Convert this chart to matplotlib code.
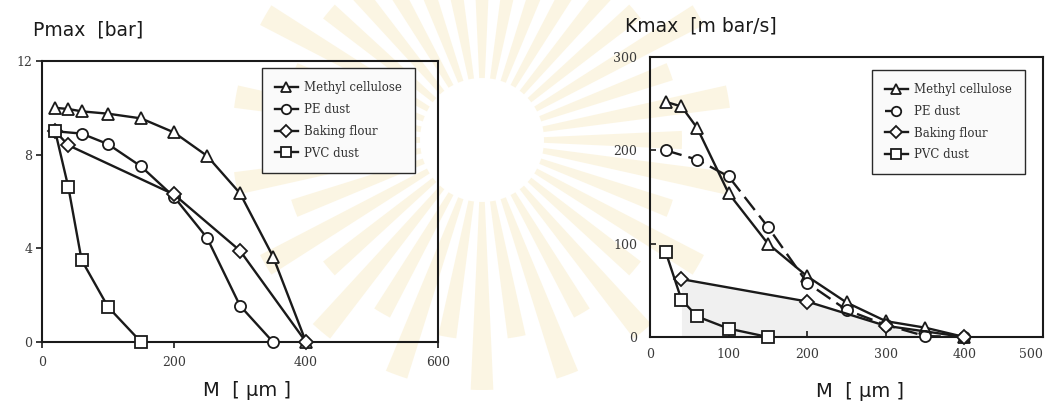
import numpy as np
import matplotlib
matplotlib.use("Agg")
import matplotlib.pyplot as plt
from matplotlib.patches import Wedge, Circle

# ---- data -------------------------------------------------------------
SERIES = ["Methyl cellulose", "PE dust", "Baking flour", "PVC dust"]

# Pmax [bar] vs mean particle size M [um]
mc_x_p = [20, 40, 60, 100, 150, 200, 250, 300, 350, 400]
mc_p = [10.0, 9.95, 9.85, 9.75, 9.55, 8.95, 7.95, 6.35, 3.65, 0.0]
pe_x_p = [20, 60, 100, 150, 200, 250, 300, 350]
pe_p = [9.0, 8.9, 8.45, 7.5, 6.2, 4.45, 1.55, 0.0]
bf_x_p = [20, 40, 200, 300, 400]
bf_p = [9.0, 8.4, 6.3, 3.9, 0.0]
pvc_x_p = [20, 40, 60, 100, 150]
pvc_p = [9.0, 6.6, 3.5, 1.5, 0.0]

# Kmax [m bar/s] vs M [um]
mc_x_k = [20, 40, 60, 100, 150, 200, 250, 300, 350, 400]
mc_k = [252, 247, 224, 154, 100, 65, 37, 17, 10, 0]
pe_x_k = [20, 60, 100, 150, 200, 250, 300, 350, 400]
pe_k = [200, 190, 172, 118, 58, 29, 13, 1, 0]
bf_x_k = [40, 200, 300, 400]
bf_k = [62, 38, 12, 0]
pvc_x_k = [20, 40, 60, 100, 150]
pvc_k = [91, 40, 22, 9, 0]

P_XTICKS = [0, 200, 400, 600]
P_YTICKS = [0, 4, 8, 12]
K_XTICKS = [0, 100, 200, 300, 400, 500]
K_YTICKS = [0, 100, 200, 300]

MARKERS = ["^", "o", "D", "s"]
INK = "#1a1a1a"
TICKC = "#3a3a3a"
W, H = 1046, 404

fig = plt.figure(figsize=(W / 100, H / 100), dpi=100)

# faint watermark emblem behind the figure (scan artefact)
bg = fig.add_axes([0, 0, 1, 1], zorder=-5)
bg.set_xlim(0, W)
bg.set_ylim(H, 0)
bg.axis("off")
cx, cy = 482, 140
for i in range(36):
    ang = i * 10.0
    r = 250 if i % 2 else 200
    bg.add_patch(Wedge((cx, cy), r, ang - 2.6, ang + 2.6, width=r - 62,
                       color="#fbf3dc", alpha=0.8, lw=0))
bg.add_patch(Circle((cx, cy), 60, color="white", lw=0))


def panel(ax, data, xlim, ylim, xticks, yticks, dashed_pe=False,
          tickdir="out", fill=None):
    for k, (x, y) in enumerate(data):
        ls = (0, (7, 3)) if (dashed_pe and k == 1) else "-"
        ax.plot(x, y, ls=ls, color=INK, lw=1.7, marker=MARKERS[k],
                ms=8.5 if MARKERS[k] == "^" else (7 if MARKERS[k] == "D" else 8),
                mfc="white", mec=INK, mew=1.3, label=SERIES[k], zorder=3,
                clip_on=False)
    if fill is not None:
        ax.fill_between(fill[0], fill[1], 0, color="#f0f0f0", lw=0, zorder=1)
    ax.set_xlim(*xlim)
    ax.set_ylim(*ylim)
    ax.set_xticks(xticks)
    ax.set_yticks(yticks)
    ax.set_facecolor("none")
    for s in ax.spines.values():
        s.set_linewidth(1.5)
        s.set_color(INK)
    ax.tick_params(direction=tickdir, length=4, width=1.2, color=INK,
                   labelsize=9, labelcolor=TICKC)
    for lab in ax.get_xticklabels() + ax.get_yticklabels():
        lab.set_family("DejaVu Serif")


axL = fig.add_axes([42 / W, 1 - 342 / H, (438 - 42) / W, (342 - 61) / H])
panel(axL, [(mc_x_p, mc_p), (pe_x_p, pe_p), (bf_x_p, bf_p), (pvc_x_p, pvc_p)],
      (0, 600), (0, 12), P_XTICKS, P_YTICKS)
axL.tick_params(axis="x", pad=6)
axL.tick_params(axis="y", pad=3)

axR = fig.add_axes([650 / W, 1 - 337 / H, (1043 - 650) / W, (337 - 57) / H])
panel(axR, [(mc_x_k, mc_k), (pe_x_k, pe_k), (bf_x_k, bf_k), (pvc_x_k, pvc_k)],
      (0, 500), (0, 300), K_XTICKS, K_YTICKS, dashed_pe=True, tickdir="in",
      fill=(bf_x_k, bf_k))
axR.tick_params(axis="x", pad=8)
axR.tick_params(axis="y", pad=9)
axR.get_xticklabels()[-1].set_horizontalalignment("right")

for ax, anchor in ((axL, (0.942, 0.975)), (axR, (0.954, 0.954))):
    leg = ax.legend(loc="upper right", bbox_to_anchor=anchor, borderaxespad=0,
                    prop={"family": "DejaVu Serif", "size": 8.5},
                    handlelength=2.0, handletextpad=0.5, labelspacing=0.75,
                    borderpad=1.1, fancybox=False, framealpha=1,
                    facecolor="#fafafa", edgecolor="#2a2a2a", markerscale=0.85)
    leg.get_frame().set_linewidth(1.0)
    for t in leg.get_texts():
        t.set_color("#333333")

fig.text(33 / W, 1 - 36 / H, "Pmax  [bar]", fontsize=13.5,
         family="DejaVu Sans", color=INK, va="baseline")
fig.text(625 / W, 1 - 32 / H, "Kmax  [m bar/s]", fontsize=13.5,
         family="DejaVu Sans", color=INK, va="baseline")
fig.text(247 / W, 1 - 396 / H, "M  [ \u00b5m ]", fontsize=14,
         family="DejaVu Sans", color=INK, va="baseline", ha="center")
fig.text(860 / W, 1 - 397 / H, "M  [ \u00b5m ]", fontsize=14,
         family="DejaVu Sans", color=INK, va="baseline", ha="center")

fig.savefig("out.png", dpi=100, facecolor="white")
